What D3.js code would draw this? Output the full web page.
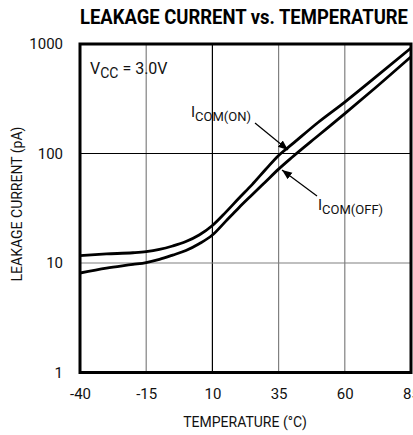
<!DOCTYPE html>
<head>
<style type="text/css">
    body {
      margin: 0;
      background: #fff;
    }
    text {
      font-family: "Liberation Sans Narrow", "Arial Narrow", "Roboto", sans-serif;
      fill: #111;
    }
</style>
</head>
<script src="https://d3js.org/d3.v7.min.js"></script>
<body>
    <svg width="413" height="435"></svg>
    <script>
        // values
        var temps  = [-40, -30, -20, -15, -10, -5, 0, 5, 10, 15, 20, 25, 30, 35, 40, 50, 60, 70, 85];
        var comOn  = [11.7, 12.1, 12.4, 12.7, 13.3, 14.3, 15.7, 18.0, 22.0, 29.0, 39.0, 52.0, 71.0, 96.0, 121, 193, 295, 463, 920];
        var comOff = [8.1, 9.0, 9.7, 10.1, 10.8, 11.8, 13.0, 15.0, 18.0, 24.0, 32.0, 42.0, 55.0, 72.0, 92.0, 146, 231, 370, 766];
        var xTicks = [-40, -15, 10, 35, 60, 85];
        var yTicks = [1, 10, 100, 1000];

        // plot box (don't call these top/left: window.top is read-only)
        var pL = 80, pR = 411, pT = 44, pB = 372.5;

        var svg = d3.select("svg");

        var x = d3.scaleLinear().domain([-40, 85]).range([pL, pR]);
        var y = d3.scaleLog().domain([1, 1000]).range([pB, pT]);

        // title
        svg.append("text")
            .attr("x", pL).attr("y", 24)
            .attr("textLength", 328).attr("lengthAdjust", "spacingAndGlyphs")
            .style("font-weight", "bold").style("font-size", "20px")
            .style("fill", "#000")
            .text("LEAKAGE CURRENT vs. TEMPERATURE");

        // grid
        var g = svg.append("g");
        g.selectAll(".vgrid")
            .data(xTicks.slice(1, -1))
            .enter().append("line")
            .attr("x1", d => x(d)).attr("x2", d => x(d))
            .attr("y1", pT).attr("y2", pB)
            .style("stroke", d => d == 10 ? "#000" : "#808080")
            .style("stroke-width", 1.2);
        g.selectAll(".hgrid")
            .data(yTicks.slice(1, -1))
            .enter().append("line")
            .attr("x1", pL).attr("x2", pR)
            .attr("y1", d => y(d)).attr("y2", d => y(d))
            .style("stroke", d => d == 100 ? "#000" : "#808080")
            .style("stroke-width", 1.2);

        // labels inside plot (white boxes cut the grid)
        function label(xp, yp, main, sub, fs, rest) {
            var t = svg.append("text").attr("x", xp).attr("y", yp).style("font-size", fs + "px");
            t.append("tspan").text(main);
            t.append("tspan").attr("dy", 4).style("font-size", (fs - 2) + "px").text(sub);
            if (rest) t.append("tspan").attr("dy", -4).text(rest);
            var b = t.node().getBBox();
            svg.insert("rect", "text")
                .attr("x", b.x - 2).attr("y", b.y).attr("width", b.width + 4).attr("height", b.height + 1)
                .style("fill", "#fff");
        }
        label(90, 74, "V", "CC", 16, " = 3.0V");
        label(191, 117, "I", "COM(ON)", 15);
        label(318, 210, "I", "COM(OFF)", 15);

        // curves
        svg.append("clipPath").attr("id", "clip")
            .append("rect").attr("x", pL).attr("y", pT)
            .attr("width", pR - pL).attr("height", pB - pT);

        var line = d3.line()
            .x((d, i) => x(temps[i]))
            .y(d => y(d))
            .curve(d3.curveMonotoneX);

        [comOn, comOff].forEach(function(s) {
            svg.append("path")
                .datum(s)
                .attr("d", line)
                .attr("clip-path", "url(#clip)")
                .style("fill", "none")
                .style("stroke", "#000")
                .style("stroke-width", 2.8);
        });

        // arrows
        svg.append("defs").append("marker")
            .attr("id", "head").attr("viewBox", "0 0 10 10")
            .attr("refX", 10).attr("refY", 5)
            .attr("markerWidth", 10).attr("markerHeight", 10)
            .attr("markerUnits", "userSpaceOnUse")
            .attr("orient", "auto")
            .append("path").attr("d", "M0,1 L10,5 L0,9 Z").style("fill", "#000");

        svg.append("line")
            .attr("x1", 255).attr("y1", 123).attr("x2", 288).attr("y2", 150)
            .style("stroke", "#000").style("stroke-width", 1.2)
            .attr("marker-end", "url(#head)");
        svg.append("line")
            .attr("x1", 317).attr("y1", 196).attr("x2", 282).attr("y2", 170)
            .style("stroke", "#000").style("stroke-width", 1.2)
            .attr("marker-end", "url(#head)");

        // frame
        svg.append("rect")
            .attr("x", pL).attr("y", pT)
            .attr("width", pR - pL).attr("height", pB - pT)
            .style("fill", "none").style("stroke", "#000").style("stroke-width", 3);

        // axes
        var xAxis = svg.append("g")
            .attr("transform", "translate(0," + pB + ")")
            .call(d3.axisBottom(x).tickValues(xTicks).tickSize(0).tickPadding(16));
        var yAxis = svg.append("g")
            .attr("transform", "translate(" + pL + ",0)")
            .call(d3.axisLeft(y).tickValues(yTicks).tickFormat(d3.format("d")).tickSize(0).tickPadding(17));
        [xAxis, yAxis].forEach(function(a) {
            a.select(".domain").remove();
            a.selectAll("text").style("font-size", "15px").style("font-family", null).style("fill", "#111");
        });
        // plain hyphen like the reference, not a unicode minus
        xAxis.selectAll("text").text(d => String(d));

        svg.append("text")
            .attr("x", 245).attr("y", 427)
            .attr("text-anchor", "middle")
            .style("font-size", "14px")
            .text("TEMPERATURE (°C)");

        svg.append("text")
            .attr("transform", "translate(22,204) rotate(-90)")
            .attr("text-anchor", "middle")
            .style("font-size", "14px")
            .text("LEAKAGE CURRENT (pA)");
    </script>
</body>
